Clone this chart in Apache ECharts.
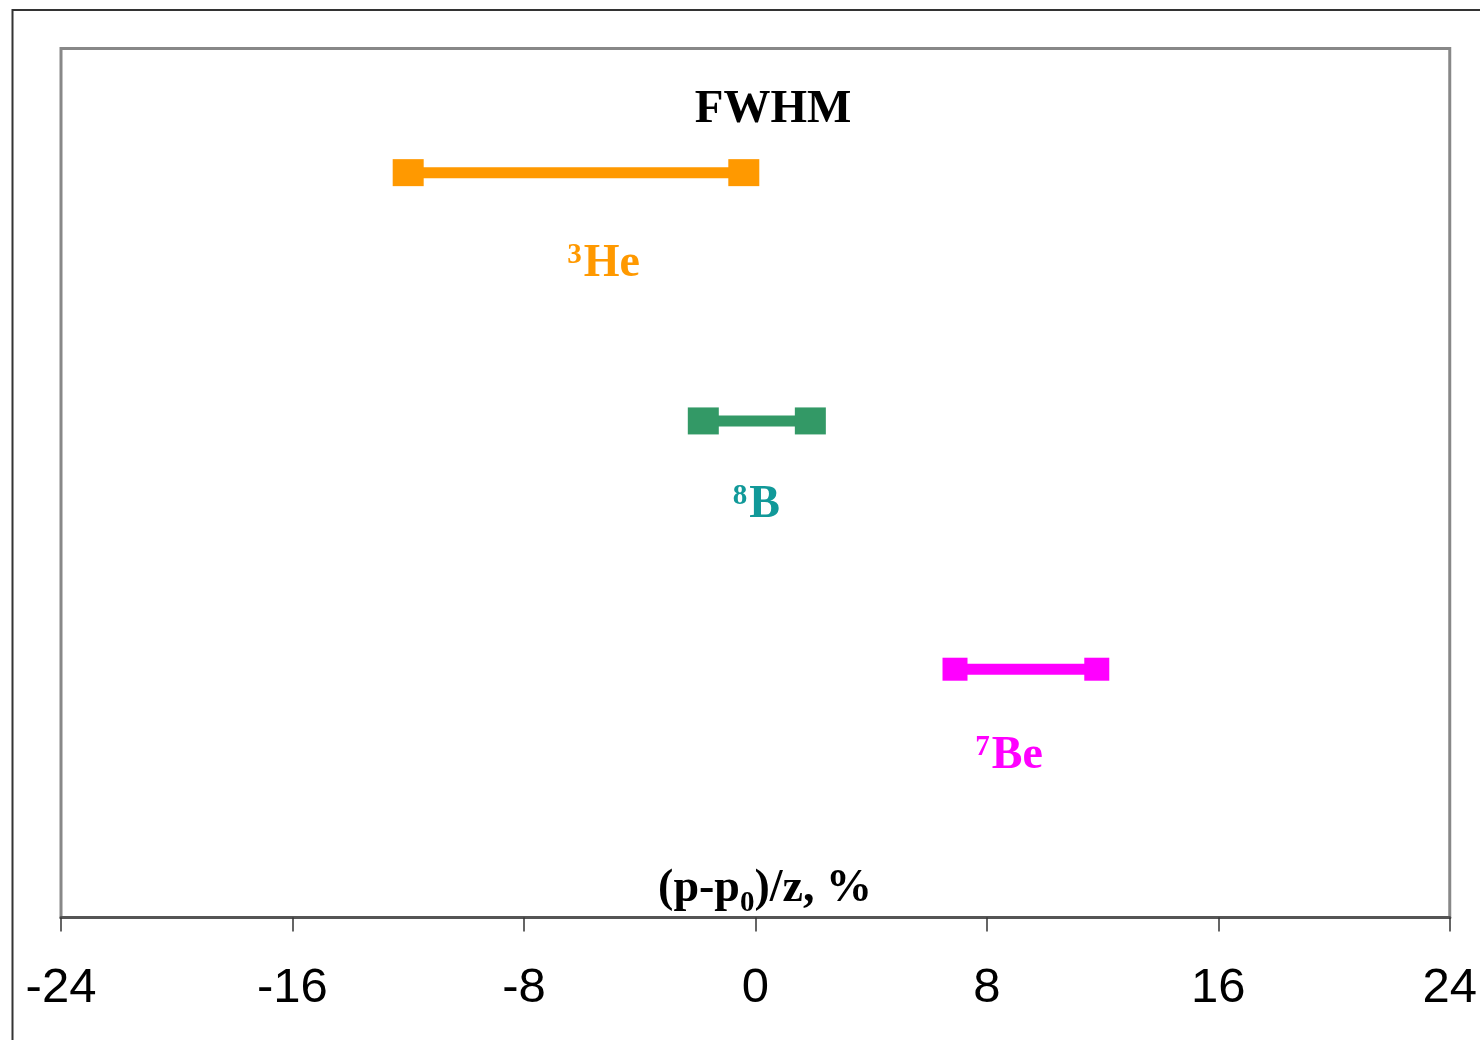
<!DOCTYPE html>
<html><head><meta charset="utf-8">
<script src="https://cdn.jsdelivr.net/npm/echarts@6/dist/echarts.min.js"></script>
<style>html,body{margin:0;padding:0;background:#fff}#c{width:1480px;height:1040px}</style>
</head><body><div id="c"></div>
<script>
// ---- data ----
const isotopes = ['3He', '8B', '7Be'];
const massNumbers = ['3', '8', '7'];
const elements = ['He', 'B', 'Be'];
const rowLevels = [3, 2, 1];
const fwhmLow = [-12.0, -1.8, 6.9];
const fwhmHigh = [-0.4, 1.9, 11.8];
const labelX = [-5.25, 0.03, 8.77];
const labelY = [2.63, 1.66, 0.65];
const xTicks = [-24, -16, -8, 0, 8, 16, 24];
const lineColors = ['#FF9900', '#339966', '#FF00FF'];
const labelColors = ['#FF9900', '#119999', '#FF00FF'];
const markerSizes = [[31, 27], [31, 27], [25, 23]];

const serif = 'Liberation Serif, Times New Roman, serif';
const sans = 'Liberation Sans, Arial, sans-serif';

const chart = echarts.init(document.getElementById('c'), null, {renderer: 'canvas'});

const series = isotopes.map((name, i) => ({
  name: name,
  type: 'line',
  data: [[fwhmLow[i], rowLevels[i]], [fwhmHigh[i], rowLevels[i]]],
  symbol: 'rect',
  symbolSize: markerSizes[i],
  showSymbol: true,
  lineStyle: {color: lineColors[i], width: 11},
  itemStyle: {color: lineColors[i], opacity: 1},
  z: 3,
  animation: false
}));

series.push({
  type: 'scatter',
  symbolSize: 0,
  silent: true,
  animation: false,
  itemStyle: {opacity: 1},
  data: isotopes.map((name, i) => ({
    value: [labelX[i], labelY[i]],
    itemStyle: {color: labelColors[i], opacity: 1},
    label: {
      show: true,
      position: 'inside',
      opacity: 1,
      formatter: '{s|' + massNumbers[i] + '}{m|' + elements[i] + '}',
      rich: {
        s: {fontSize: 29, fontFamily: serif, fontWeight: 'bold', color: labelColors[i], verticalAlign: 'top', lineHeight: 32, padding: [0, 2, 0, 0]},
        m: {fontSize: 46, fontFamily: serif, fontWeight: 'bold', color: labelColors[i], lineHeight: 46}
      }
    }
  }))
});

chart.setOption({
  backgroundColor: '#ffffff',
  animation: false,
  title: [
    {
      text: 'FWHM',
      left: 768, top: 81, textAlign: 'center',
      textStyle: {fontFamily: serif, fontWeight: 'bold', fontSize: 47, color: '#000', lineHeight: 47}
    },
    {
      text: '{a|(p-p}{b|0}{a|)/z, %}',
      left: 760, top: 846, textAlign: 'center',
      textStyle: {
        rich: {
          a: {fontFamily: serif, fontWeight: 'bold', fontSize: 46, color: '#000', lineHeight: 76},
          b: {fontFamily: serif, fontWeight: 'bold', fontSize: 29, color: '#000', lineHeight: 29, padding: [29, 0, 0, 0]}
        }
      }
    }
  ],
  graphic: [{
    type: 'rect',
    shape: {x: 12.5, y: 10, width: 3000, height: 3000},
    style: {fill: 'none', stroke: '#333333', lineWidth: 2},
    silent: true, z: 0
  }],
  grid: {
    left: 61, right: 29, top: 48.5, bottom: 122.5,
    show: true, borderColor: '#888888', borderWidth: 3, backgroundColor: '#ffffff'
  },
  xAxis: {
    type: 'value',
    min: xTicks[0], max: xTicks[xTicks.length - 1], interval: 8,
    splitLine: {show: false},
    axisLine: {show: true, onZero: false, lineStyle: {color: '#555555', width: 3}},
    axisTick: {show: true, length: 14, lineStyle: {color: '#333333', width: 1.5}},
    axisLabel: {fontFamily: sans, fontSize: 49, color: '#000', margin: 46, showMinLabel: true, showMaxLabel: true}
  },
  yAxis: {
    type: 'value', min: 0, max: 3.5, show: false
  },
  series: series
});
</script></body></html>
